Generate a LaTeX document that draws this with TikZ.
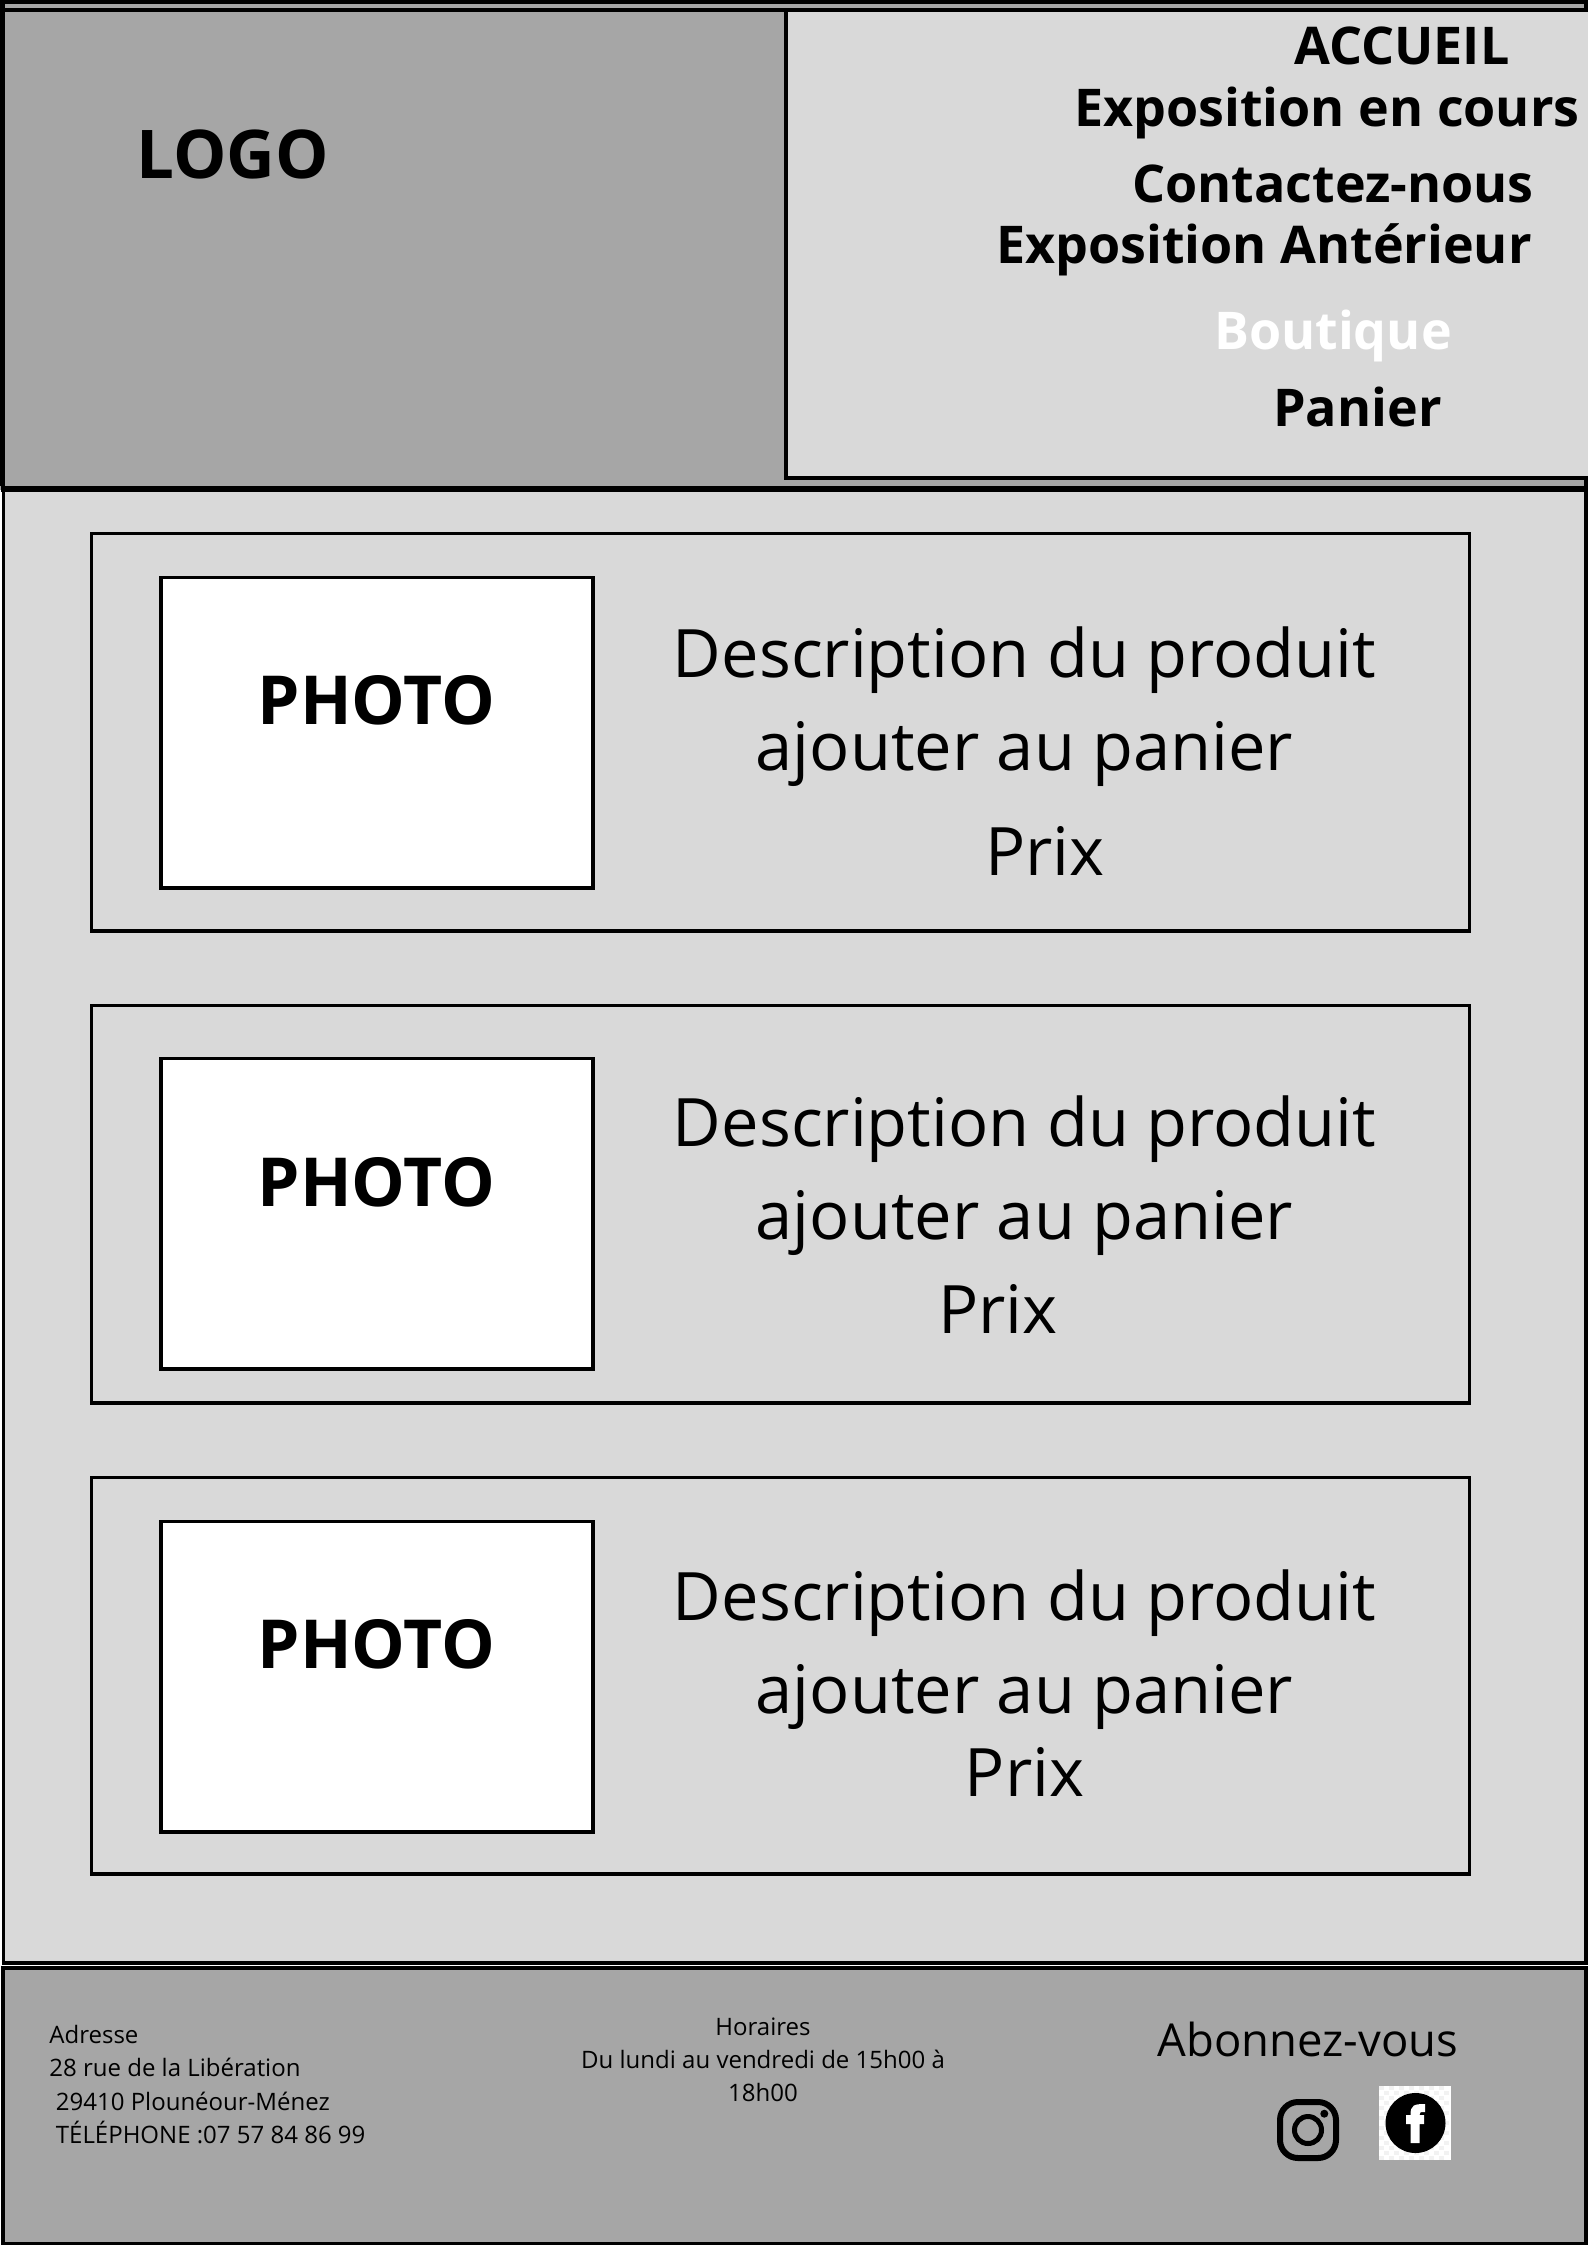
\documentclass[tikz,border=0pt]{standalone}
\usepackage{fontspec}
\setmainfont{Open Sans}
\definecolor{lightgrey}{HTML}{D9D9D9}
\definecolor{midgrey}{HTML}{A6A6A6}
\definecolor{checkgrey}{HTML}{F2F2F2}
\tikzset{
  panel/.style={draw=black,line width=1.85pt},
  navtext/.style={anchor=base,inner sep=0pt,font=\fontsize{26}{30}\selectfont\bfseries,text=black},
  phototext/.style={anchor=base,inner sep=0pt,font=\fontsize{33.8}{38}\selectfont\bfseries},
  desctext/.style={anchor=base,inner sep=0pt,font=\fontsize{33.4}{38}\selectfont},
  foottext/.style={inner sep=0pt,font=\fontsize{12}{14}\selectfont},
}
\begin{document}
\begin{tikzpicture}[x=0.5pt,y=-0.5pt]
\useasboundingbox (0,0) rectangle (1587,2245);
% top frame
\fill[midgrey] (0,0) rectangle (1587,490);
\draw[panel] (2.5,2) rectangle (1586,490);
\draw[panel] (2.5,10) rectangle (1590,488);
\fill (0,0) rectangle (5,486);
\draw[panel,fill=lightgrey] (786,10) rectangle (1590,478);
% main panel
\draw[panel,fill=lightgrey] (3.5,489.7) rectangle (1586,1963);
% footer
\draw[panel,fill=midgrey] (3.2,1967.8) rectangle (1586,2243.5);
% product rows
\foreach \ya/\yb/\pa/\pb in {533.5/931/577.5/888,1005.5/1403/1058.5/1369,1477.5/1874/1521.5/1832}{
  \draw[panel,fill=lightgrey] (91.5,\ya) rectangle (1469.5,\yb);
  \draw[panel,fill=white] (160.7,\pa) rectangle (593,\pb);
}
% header texts
\node[anchor=base,inner sep=0pt,font=\fontsize{33.6}{38}\selectfont\bfseries] (logo) at (232.5,178) {LOGO};
\node[navtext] (n1) at (1402,64.5) {ACCUEIL};
\node[navtext] (n2) at (1327,126) {Exposition en cours};
\node[navtext] (n3) at (1333,202) {Contactez-nous};
\node[navtext] (n4) at (1264,263) {Exposition Antérieur};
\node[navtext,text=white] (n5) at (1333,349) {Boutique};
\node[navtext] (n6) at (1357.5,426) {Panier};
% product texts
\node[phototext] (p1) at (376.6,724.6) {PHOTO};
\node[phototext] (p2) at (376.6,1206) {PHOTO};
\node[phototext] (p3) at (376.6,1668.5) {PHOTO};
\node[desctext] (d1) at (1024.5,677.5) {Description du produit};
\node[desctext] (a1) at (1024.5,770.5) {ajouter au panier};
\node[desctext] (x1) at (1045,875) {Prix};
\node[desctext] (d2) at (1024.5,1146.5) {Description du produit};
\node[desctext] (a2) at (1024.5,1239.5) {ajouter au panier};
\node[desctext] (x2) at (998,1333) {Prix};
\node[desctext] (d3) at (1024.5,1620.5) {Description du produit};
\node[desctext] (a3) at (1024.5,1713.5) {ajouter au panier};
\node[desctext] (x3) at (1024.5,1796) {Prix};
% footer texts
\node[foottext,anchor=base west] (f1) at (49,2043) {Adresse};
\node[foottext,anchor=base west] (f2) at (49,2076.5) {28 rue de la Libération};
\node[foottext,anchor=base west] (f3) at (55.5,2110) {29410 Plounéour-Ménez};
\node[foottext,anchor=base west] (f4) at (55.5,2143) {TÉLÉPHONE :07 57 84 86 99};
\node[foottext,anchor=base] (h1) at (763,2035) {Horaires};
\node[foottext,anchor=base] (h2) at (763,2068) {Du lundi au vendredi de 15h00 à};
\node[foottext,anchor=base] (h3) at (763,2101) {18h00};
\node[anchor=base,inner sep=0pt,font=\fontsize{22.7}{26}\selectfont] (ab) at (1308,2056) {Abonnez-vous};
% instagram icon
\draw[line width=3pt,rounded corners=9pt] (1280,2102) rectangle (1336,2158);
\draw[line width=2.5pt] (1308,2130) circle[radius=13.5];
\fill (1324.3,2113.7) circle[radius=4];
% facebook icon
\fill[white] (1379,2086) rectangle (1451,2160);
\foreach \i in {0,...,13}{\foreach \j in {0,...,14}{
  \pgfmathparse{int(mod(\i+\j,2))}
  \ifnum\pgfmathresult=0
    \fill[checkgrey] ({1379+\i*5},{2086+\j*5}) rectangle ++(5,4);
  \fi
}}
\fill (1415.5,2123) circle[radius=30];
\fill[white] (1410.5,2143) -- (1410.5,2124) -- (1406,2124) -- (1406,2115) -- (1410.5,2115)
  .. controls (1410.5,2105) and (1414,2104) .. (1425,2104) -- (1425,2112)
  .. controls (1420,2112) and (1419.5,2112) .. (1419.5,2115) -- (1424,2115) -- (1424,2124)
  -- (1419.5,2124) -- (1419.5,2143) -- cycle;
\end{tikzpicture}
\end{document}
